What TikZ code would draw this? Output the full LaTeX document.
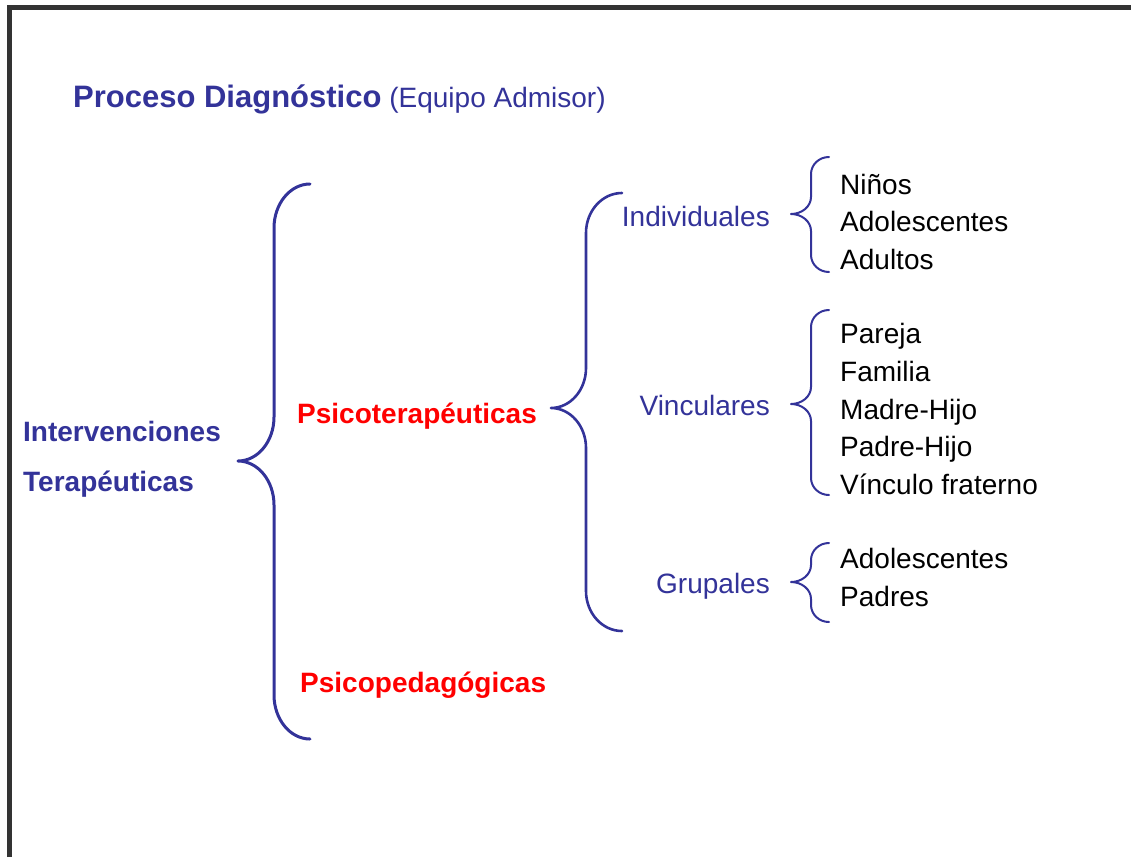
\documentclass[tikz,border=0pt]{standalone}
\usepackage{fontspec}
\setmainfont{Liberation Sans}
\usepackage{xcolor}
\usetikzlibrary{positioning}
\definecolor{navy}{RGB}{51,51,153}
\definecolor{framegray}{RGB}{51,51,51}

\begin{document}
\begin{tikzpicture}[x=1pt,y=-1pt,
  every node/.style={inner sep=0pt, anchor=base west, font=\fontsize{28}{34}\selectfont},
  head/.style={text=navy, font=\fontsize{28}{34}\selectfont\bfseries},
  kind/.style={text=red, font=\fontsize{28}{34}\selectfont\bfseries},
  sub/.style={text=navy, anchor=base east},
  item/.style={text=black},
  bracket/.style={draw=navy, line width=#1, line cap=round, line join=round}]
\useasboundingbox (0,0) rectangle (1131,857);
% frame
\draw[framegray, line width=5pt] (9.5,857) -- (9.5,7.5) -- (1131,7.5);
% title
\node[text=navy] (title) at (73,107) {{\fontsize{31}{37}\selectfont\bfseries Proceso Diagnóstico} (Equipo Admisor)};
% left column
\node[head] (interv) at (23,441) {Intervenciones};
\node[head] (terap) at (23,491) {Terapéuticas};
\node[kind] (psicoter) at (297,423) {Psicoterapéuticas};
\node[kind] (psicoped) at (300,692) {Psicopedagógicas};
% braces
\foreach \tx/\lx/\ex/\t/\m/\b/\r/\w in {238/274/310/184/461/739/44/3,
    551/586/622/193/408/631/40/2.6,
    791/811/829/157/214/272/17/2,
    791/811/829/310/404/495/17/2,
    791/811/829/543/582/622/17/2} {
  \draw[bracket=\w pt] (\ex,\t)
    .. controls ({\ex-0.552*(\ex-\lx)},\t) and (\lx,{\t+0.448*\r}) .. ({\lx},{\t+\r})
    -- ({\lx},{\m-\r})
    .. controls (\lx,{\m-0.448*\r}) and ({\tx+0.552*(\lx-\tx)},\m) .. (\tx,\m)
    .. controls ({\tx+0.552*(\lx-\tx)},\m) and (\lx,{\m+0.448*\r}) .. ({\lx},{\m+\r})
    -- ({\lx},{\b-\r})
    .. controls (\lx,{\b-0.448*\r}) and ({\ex-0.552*(\ex-\lx)},\b) .. (\ex,\b);
}
% kinds of therapy
\node[sub] (indiv) at (770,226) {Individuales};
\node[sub] (vinc) at (770,415) {Vinculares};
\node[sub] (grup) at (770,593) {Grupales};
% who attends
\foreach \name/\txt/\yy in {ninos/Niños/194, adol/Adolescentes/231, adult/Adultos/269,
    pareja/Pareja/343, fam/Familia/381, madre/Madre-Hijo/419, padre/Padre-Hijo/456,
    frat/Vínculo fraterno/494, adolg/Adolescentes/568, padres/Padres/606}
  \node[item] (\name) at (840,\yy) {\txt};
\end{tikzpicture}
\end{document}
